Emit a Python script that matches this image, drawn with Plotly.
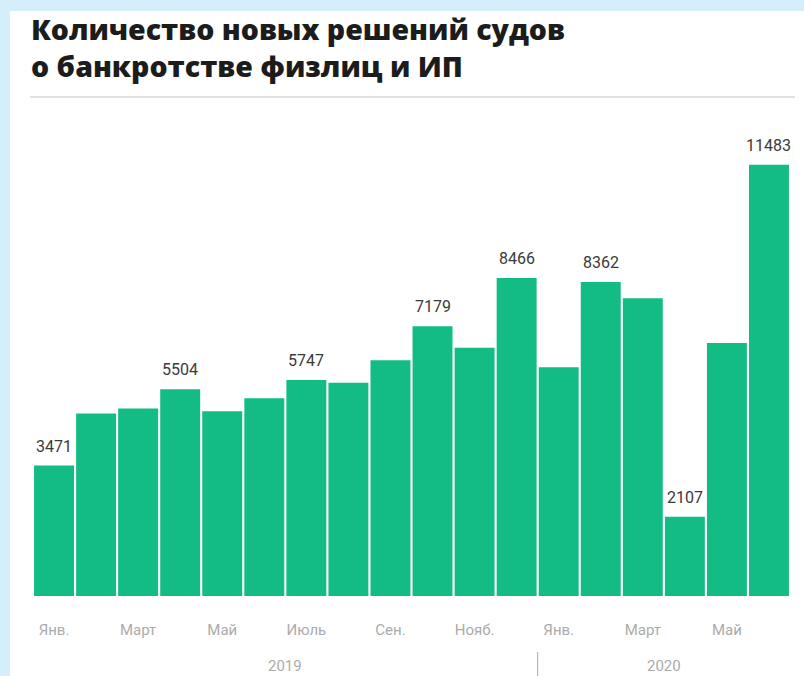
import plotly.graph_objects as go

months = ["Янв.", "Фев.", "Март", "Апр.", "Май", "Июнь", "Июль", "Авг.", "Сен.", "Окт.", "Нояб.", "Дек.",
          "Янв.", "Фев.", "Март", "Апр.", "Май", "Июнь"]
values = [3471, 4856, 4989, 5504, 4917, 5263, 5747, 5678, 6274, 7179, 6610, 8466,
          6088, 8362, 7925, 2107, 6735, 11483]
labeled = [True, False, False, True, False, False, True, False, False, True, False, True,
           False, True, False, True, False, True]
tick_idx = [0, 2, 4, 6, 8, 10, 12, 14, 16]
years = ["2019", "2020"]
year_centers = [5.5, 14.5]

title = "Количество новых решений судов<br>о банкротстве физлиц и ИП"

x = list(range(len(values)))

W, H = 804, 676
L, R, T, B = 33, 14, 120, 80
plot_h = H - T - B
plot_w = W - L - R
ymax = plot_h * 26.62

def px_to_paper_y(py):
    return (H - B - py) / plot_h

def px_to_paper_x(px):
    return (px - L) / plot_w

fig = go.Figure()
fig.add_trace(go.Bar(
    x=x, y=values,
    marker=dict(color="#13bb85", line=dict(width=0)),
    hoverinfo="skip",
))

fig.update_layout(
    width=W, height=H,
    margin=dict(l=L, r=R, t=T, b=B),
    paper_bgcolor="#d4eefa",
    plot_bgcolor="rgba(0,0,0,0)",
    bargap=0.05,
    showlegend=False,
    xaxis=dict(
        range=[-0.5, len(values) - 0.5],
        tickvals=tick_idx,
        ticktext=[months[i] for i in tick_idx],
        tickfont=dict(family="Roboto", size=15, color="#ababab"),
        showgrid=False, zeroline=False, showline=False, ticks="",
        ticklabelstandoff=23,
    ),
    yaxis=dict(range=[0, ymax], visible=False, showgrid=False, zeroline=False),
)

# value labels
for xi, v, lab in zip(x, values, labeled):
    if lab:
        fig.add_annotation(text=f"{v}", xref="x", yref="y", x=xi, y=v,
                           xanchor="center", yanchor="bottom", yshift=8, showarrow=False,
                           font=dict(family="Roboto", size=16, color="#3a3a3a"))

# white card
fig.add_shape(type="rect", xref="paper", yref="paper",
              x0=px_to_paper_x(10), x1=px_to_paper_x(W + 5),
              y0=px_to_paper_y(H + 5), y1=px_to_paper_y(11),
              fillcolor="white", line=dict(width=0), layer="below")

# separator line under title
fig.add_shape(type="line", xref="paper", yref="paper",
              x0=px_to_paper_x(30), x1=px_to_paper_x(795),
              y0=px_to_paper_y(97), y1=px_to_paper_y(97),
              line=dict(color="#e2e2e2", width=2))

# year divider
fig.add_shape(type="line", xref="x", yref="paper",
              x0=11.5, x1=11.5,
              y0=px_to_paper_y(676), y1=px_to_paper_y(652),
              line=dict(color="#aaaaaa", width=1))

fig.add_annotation(text=title, xref="paper", yref="paper",
                   x=px_to_paper_x(29), y=px_to_paper_y(8),
                   xanchor="left", yanchor="top", align="left", showarrow=False,
                   font=dict(family="Open Sans", size=28.5, color="#1c1c1c", weight=800))

for yr, c in zip(years, year_centers):
    fig.add_annotation(text=yr, xref="x", yref="paper", x=c, y=px_to_paper_y(666),
                       xanchor="center", yanchor="middle", showarrow=False,
                       font=dict(family="Roboto", size=15, color="#ababab"))

fig.write_html("out.html", config={"displayModeBar": False},
               post_script="document.body.style.margin='0';document.body.style.overflow='hidden';")
